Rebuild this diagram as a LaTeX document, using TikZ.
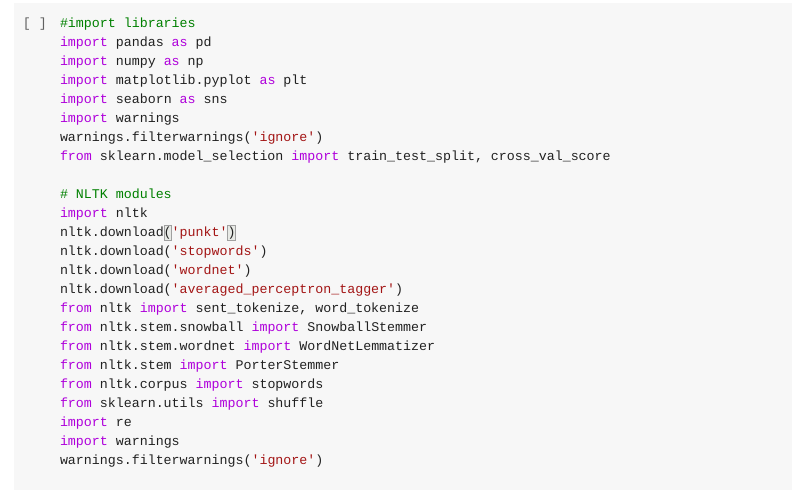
\documentclass[tikz,border=0pt]{standalone}
\usepackage{fontspec}
\setmonofont{Liberation Mono}
\definecolor{bgc}{HTML}{F7F7F7}
\definecolor{txt}{HTML}{212121}
\definecolor{kwc}{HTML}{AF00DB}
\definecolor{cmc}{HTML}{008000}
\definecolor{stc}{HTML}{A31515}
\definecolor{brc}{HTML}{616161}
\definecolor{hlfill}{HTML}{E8EAE6}
\definecolor{hldraw}{HTML}{A0A0A0}
\newcommand{\kwd}[1]{\textcolor{kwc}{#1}}
\newcommand{\cmtx}[1]{\textcolor{cmc}{#1}}
\newcommand{\strx}[1]{\textcolor{stc}{#1}}
\tikzset{
  codeline/.style={anchor=base west, inner sep=0pt, outer sep=0pt, text=txt,
    font=\ttfamily\fontsize{13.3}{19}\selectfont},
  brackettext/.style={codeline, text=brc},
  hlbox/.style={fill=hlfill, draw=hldraw, line width=0.6pt}
}
\begin{document}
\begin{tikzpicture}[x=1pt,y=-1pt]
\useasboundingbox (0,0) rectangle (792,491);
\fill[bgc] (14,3) rectangle (792,490);
% bracket matching highlights
\draw[hlbox] (163.9,225.5) rectangle (171.7,240);
\draw[hlbox] (227.7,225.5) rectangle (235.5,240);
\node[brackettext] (br) at (23,27.5) {[ ]};
\node[codeline] (l1) at (60,27.5) {\cmtx{\#import libraries}};
\node[codeline] (l2) at (60,46.5) {\kwd{import} pandas \kwd{as} pd};
\node[codeline] (l3) at (60,65.5) {\kwd{import} numpy \kwd{as} np};
\node[codeline] (l4) at (60,84.5) {\kwd{import} matplotlib.pyplot \kwd{as} plt};
\node[codeline] (l5) at (60,103.5) {\kwd{import} seaborn \kwd{as} sns};
\node[codeline] (l6) at (60,122.5) {\kwd{import} warnings};
\node[codeline] (l7) at (60,141.5) {warnings.filterwarnings(\strx{'ignore'})};
\node[codeline] (l8) at (60,160.5) {\kwd{from} sklearn.model\_selection \kwd{import} train\_test\_split, cross\_val\_score};
\node[codeline] (l10) at (60,198.5) {\cmtx{\# NLTK modules}};
\node[codeline] (l11) at (60,217.5) {\kwd{import} nltk};
\node[codeline] (l12) at (60,236.5) {nltk.download(\strx{'punkt'})};
\node[codeline] (l13) at (60,255.5) {nltk.download(\strx{'stopwords'})};
\node[codeline] (l14) at (60,274.5) {nltk.download(\strx{'wordnet'})};
\node[codeline] (l15) at (60,293.5) {nltk.download(\strx{'averaged\_perceptron\_tagger'})};
\node[codeline] (l16) at (60,312.5) {\kwd{from} nltk \kwd{import} sent\_tokenize, word\_tokenize};
\node[codeline] (l17) at (60,331.5) {\kwd{from} nltk.stem.snowball \kwd{import} SnowballStemmer};
\node[codeline] (l18) at (60,350.5) {\kwd{from} nltk.stem.wordnet \kwd{import} WordNetLemmatizer};
\node[codeline] (l19) at (60,369.5) {\kwd{from} nltk.stem \kwd{import} PorterStemmer};
\node[codeline] (l20) at (60,388.5) {\kwd{from} nltk.corpus \kwd{import} stopwords};
\node[codeline] (l21) at (60,407.5) {\kwd{from} sklearn.utils \kwd{import} shuffle};
\node[codeline] (l22) at (60,426.5) {\kwd{import} re};
\node[codeline] (l23) at (60,445.5) {\kwd{import} warnings};
\node[codeline] (l24) at (60,464.5) {warnings.filterwarnings(\strx{'ignore'})};
\end{tikzpicture}
\end{document}
